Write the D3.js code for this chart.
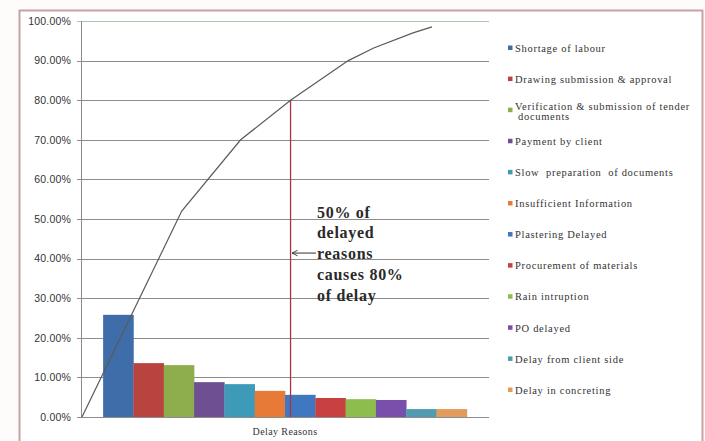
<!DOCTYPE html>
<html><head><meta charset="utf-8">
<script src="https://cdn.jsdelivr.net/npm/d3@7"></script>
<style>body{margin:0;background:#fdfcfb;}svg{display:block;}</style>
</head><body>
<svg id="chart" width="705" height="441"></svg>
<script>
// ---- data ----
const categories = [
  "Shortage of labour",
  "Drawing submission & approval",
  "Verification & submission of tender documents",
  "Payment by client",
  "Slow  preparation  of documents",
  "Insufficient Information",
  "Plastering Delayed",
  "Procurement of materials",
  "Rain intruption",
  "PO delayed",
  "Delay from client side",
  "Delay in concreting"
];
const shares = [0.258, 0.136, 0.131, 0.088, 0.083, 0.066, 0.056, 0.048, 0.045, 0.043, 0.020, 0.020];
const barColors = ["#3e6da9","#b9433f","#8eae4e","#6d4f92","#3d9ab8","#e67a36","#3f78c0","#c94040","#8cbd4d","#7850ab","#4f9bb0","#e29b5a"];
// cumulative curve (positions along the category axis, value)
const curvePos = [0, 3.42, 5.44, 7.15, 9.13, 10.0, 11.35, 12];
const curveVals = [0, 0.52, 0.70, 0.80, 0.90, 0.932, 0.97, 0.985];
const yTicks = [0,0.1,0.2,0.3,0.4,0.5,0.6,0.7,0.8,0.9,1.0];
const markerPos = 7.15, markerVal = 0.80, arrowVal = 0.414;
const noteLines = ["50% of","delayed","reasons","causes 80%","of delay"];
const xTitle = "Delay Reasons";

// ---- layout ----
const svg = d3.select("#chart");
const L = 81, R = 489, T = 21, B = 417;

svg.append("rect").attr("x",19.5).attr("y",10.5).attr("width",683).attr("height",445)
  .attr("fill","#fff").attr("stroke","#c7a2a2").attr("stroke-width",2);

const y = d3.scaleLinear().domain([0,1]).range([B,T]);
const xb = d3.scaleBand().domain(d3.range(categories.length)).range([L,R]).paddingInner(0).paddingOuter(0.73);
const xl = d3.scaleLinear().domain([0,12]).range([L+1,432]);

// gridlines
const grid = svg.append("g");
grid.selectAll("line").data(yTicks).join("line")
  .attr("x1",L-4).attr("x2",R).attr("y1",d=>Math.round(y(d))+0.5).attr("y2",d=>Math.round(y(d))+0.5)
  .attr("stroke",d=>d===1?"#a9c7ab":"#8d8d8d").attr("stroke-width",1);

// y axis
const yAxis = d3.axisLeft(y).tickValues(yTicks).tickFormat(d3.format(".2%")).tickSize(0).tickPadding(10);
const ya = svg.append("g").attr("transform",`translate(${L},0)`).call(yAxis);
ya.select(".domain").remove();
ya.selectAll("text").attr("font-family","Liberation Sans, Arial, sans-serif").attr("font-size",10.5)
  .attr("fill","#333").attr("letter-spacing",0.2);
svg.append("line").attr("x1",L+0.5).attr("x2",L+0.5).attr("y1",T).attr("y2",B).attr("stroke","#8d8d8d");

// bars
svg.append("g").selectAll("rect").data(shares).join("rect")
  .attr("x",(d,i)=>xb(i)).attr("width",xb.bandwidth()+0.3)
  .attr("y",d=>y(d)).attr("height",d=>B-y(d))
  .attr("fill",(d,i)=>barColors[i]);

// marker line
svg.append("line").attr("x1",xl(markerPos)).attr("x2",xl(markerPos))
  .attr("y1",y(markerVal)).attr("y2",B).attr("stroke","#a8344a").attr("stroke-width",1.3);

// cumulative curve
const curve = curvePos.map((p,i)=>[p,curveVals[i]]);
svg.append("path").datum(curve)
  .attr("d",d3.line().x(d=>xl(d[0])).y(d=>y(d[1])))
  .attr("fill","none").attr("stroke","#5a5a5a").attr("stroke-width",1.2);

// x title
svg.append("text").attr("x",(L+R)/2).attr("y",435).attr("text-anchor","middle")
  .attr("font-family","Liberation Serif, Times New Roman, serif").attr("font-size",10).attr("fill","#333")
  .attr("letter-spacing",0.4).text(xTitle);

// annotation
const note = svg.append("text").attr("font-family","Liberation Serif, Times New Roman, serif")
  .attr("font-weight","bold").attr("font-size",16).attr("fill","#2a2a2a").attr("letter-spacing",0.7);
noteLines.forEach((t,i)=>{
  note.append("tspan").attr("x",317).attr("y",212+i*20.8).attr("dy","0.35em").text(t);
});
const defs = svg.append("defs");
defs.append("marker").attr("id","ah").attr("viewBox","0 0 10 10").attr("refX",9).attr("refY",5)
  .attr("markerUnits","userSpaceOnUse").attr("markerWidth",7).attr("markerHeight",7).attr("orient","auto")
  .append("path").attr("d","M1,1 L9,5 L1,9").attr("fill","none").attr("stroke","#333").attr("stroke-width",1.3);
svg.append("line").attr("x1",316).attr("x2",xl(markerPos)+1.5).attr("y1",y(arrowVal)).attr("y2",y(arrowVal))
  .attr("stroke","#333").attr("stroke-width",1).attr("marker-end","url(#ah)");

// legend
const ly = d3.scalePoint().domain(d3.range(categories.length)).range([48,390]);
const lg = svg.append("g").selectAll("g").data(categories).join("g")
  .attr("transform",(d,i)=>`translate(508,${ly(i)})`);
lg.append("rect").attr("x",0).attr("y",-2.5).attr("width",4.5).attr("height",4.5).attr("fill",(d,i)=>barColors[i]);
lg.each(function(d){
  const g = d3.select(this);
  const t = g.append("text").attr("x",7).attr("y",0).attr("dy","0.35em")
    .attr("font-family","Liberation Serif, Times New Roman, serif").attr("font-size",10.5)
    .attr("letter-spacing",0.7).attr("fill","#333").style("white-space","pre");
  if (d.length > 40) {
    const cut = d.lastIndexOf(" ");
    t.attr("dy","-0.05em");
    t.append("tspan").attr("x",7).text(d.slice(0,cut));
    t.append("tspan").attr("x",10).attr("dy","1.0em").text(d.slice(cut+1));
  } else t.text(d);
});
</script>
</body></html>
